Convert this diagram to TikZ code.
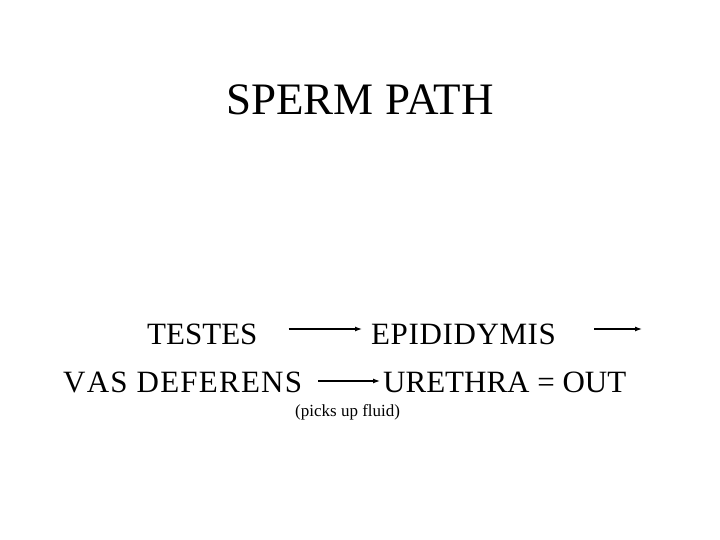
\documentclass[tikz,border=0pt]{standalone}
\usepackage{fontspec}
\setmainfont{Liberation Serif}
\usetikzlibrary{arrows.meta}
\tikzset{
  word/.style={inner sep=0pt, anchor=base west, font=\fontsize{31}{36}\selectfont},
  flow/.style={-{Latex[length=7pt,width=5pt]}, line width=1.2pt}
}

\begin{document}
\begin{tikzpicture}[x=1pt, y=1pt]
        \useasboundingbox (0,0) rectangle (720,540);
        \node[inner sep=0pt, anchor=base, font=\fontsize{45}{52}\selectfont] (title) at (360,425) {SPERM PATH};
        % first row
        \node[word] (testes) at (147,195) {TESTES};
        \node[word] (epid) at (371,195) {\addfontfeature{LetterSpace=2}EPIDIDYMIS};
        \coordinate (next) at (642,211);
        % second row
        \node[word] (vas) at (63,147) {\addfontfeature{LetterSpace=4,Kerning=Off}VAS DEFERENS};
        \node[word] (ureth) at (383,147) {URETHRA = OUT};
        \node[inner sep=0pt, anchor=base west, font=\fontsize{17}{20}\selectfont] (fluid) at (295,123) {(picks up fluid)};
        \draw[flow] ([xshift=31pt, yshift=16pt]testes.base east) -- ([xshift=-9pt, yshift=16pt]epid.base west);
        \draw[flow] ([xshift=38pt, yshift=16pt]epid.base east) -- (next);
        \draw[flow] ([xshift=16pt, yshift=12pt]vas.base east) -- ([xshift=-3pt, yshift=12pt]ureth.base west);
      \end{tikzpicture}
\end{document}
